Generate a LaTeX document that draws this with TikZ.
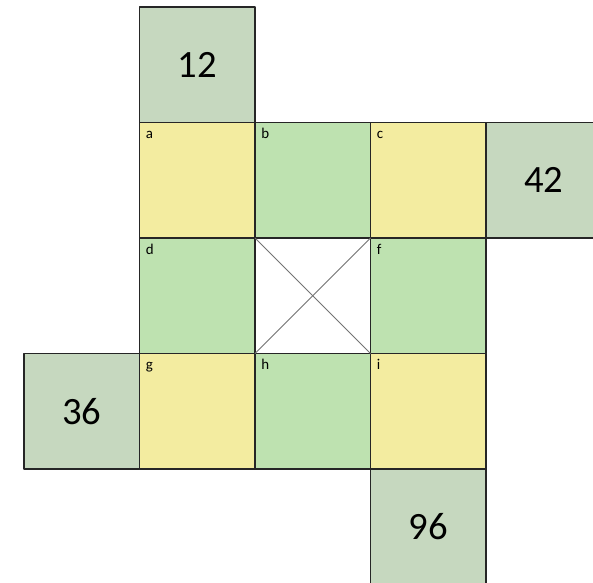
\documentclass[tikz,border=0pt]{standalone}
\usepackage{fontspec}
\setmainfont{Carlito}
\usepackage{xcolor}
\usepackage{tikz}
\usetikzlibrary{calc}

\definecolor{cellyellow}{RGB}{243,236,160}
\definecolor{cellgreen}{RGB}{190,226,176}
\definecolor{sumgreen}{RGB}{198,216,191}

\tikzset{
  cell/.style={draw=black!85,line width=0.6pt,minimum size=2.31cm,inner sep=0pt,outer sep=0pt},
  sumcell/.style={cell,fill=sumgreen,font=\fontsize{22}{26}\selectfont},
  letter/.style={anchor=base west,inner sep=0pt,font=\fontsize{8.5}{9}\selectfont}
}

\begin{document}
\begin{tikzpicture}[line join=round]
  \useasboundingbox (-0.48,0.14) rectangle (11.38,-11.52);
  % grid of the puzzle
  \node[cell,fill=cellyellow] (a) at (3.465,-3.465) {};
  \node[cell,fill=cellgreen]  (b) at (5.775,-3.465) {};
  \node[cell,fill=cellyellow] (c) at (8.085,-3.465) {};
  \node[cell,fill=cellgreen]  (d) at (3.465,-5.775) {};
  \node[cell,fill=white]      (e) at (5.775,-5.775) {};
  \node[cell,fill=cellgreen]  (f) at (8.085,-5.775) {};
  \node[cell,fill=cellyellow] (g) at (3.465,-8.085) {};
  \node[cell,fill=cellgreen]  (h) at (5.775,-8.085) {};
  \node[cell,fill=cellyellow] (i) at (8.085,-8.085) {};
  \draw[black!55,line width=0.6pt] (e.north west) -- (e.south east);
  \draw[black!55,line width=0.6pt] (e.north east) -- (e.south west);
  % sums outside
  \node[sumcell] (s12) at (3.465,-1.155) {12};
  \node[sumcell] (s42) at (10.395,-3.465) {42};
  \node[sumcell] (s36) at (1.155,-8.085) {36};
  \node[sumcell] (s96) at (8.085,-10.395) {96};
  % cell letters
  \foreach \n in {a,b,c,d,f,g,h,i}
    \node[letter] at ($(\n.north west)+(0.12,-0.32)$) {\n};
\end{tikzpicture}
\end{document}
